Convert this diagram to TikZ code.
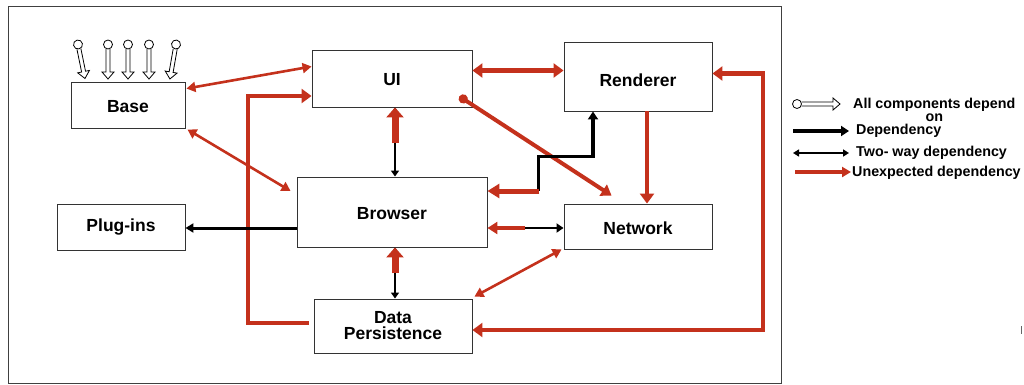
\documentclass[tikz,border=0pt]{standalone}
\usepackage{fontspec}
\setmainfont{Liberation Sans}
\usetikzlibrary{arrows.meta,calc}
\definecolor{dred}{HTML}{C4311C}
\begin{document}
\begin{tikzpicture}[x=1pt,y=-1pt,
  box/.style={draw=black!80, line width=0.9pt, inner sep=0pt, font=\fontsize{17.5}{16}\selectfont\bfseries, align=center},
  one/.style={text height=12.5pt, text depth=0pt},
  leg/.style={anchor=west, inner sep=0pt, font=\fontsize{14.3}{12.5}\selectfont\bfseries, align=center},
  rthin/.style={draw=dred, line width=2.6pt, {Triangle[length=9pt,width=10pt]}-{Triangle[length=9pt,width=10pt]}},
  rthick/.style={draw=dred, line width=4.5pt, -{Triangle[length=10pt,width=14pt]}},
  rstub/.style={draw=dred, line width=7pt, -{Triangle[length=10pt,width=17pt]}},
  bthin/.style={draw=black, line width=2pt, {Triangle[length=6pt,width=8pt]}-{Triangle[length=6pt,width=8pt]}},
  bthick/.style={draw=black, line width=3.5pt, -{Triangle[length=8pt,width=10pt]}},
  pics/hollow/.style={code={
    \draw[line width=0.8pt, fill=white] (-2,4.5) -- (-2,#1-7) -- (-6,#1-7) -- (0,#1) -- (6,#1-7) -- (2,#1-7) -- (2,4.5);
    \draw[line width=0.8pt, fill=white] (0,0) circle[radius=4.5];
  }}
]
\useasboundingbox (0,0) rectangle (1024,385);
\draw[black!75, line width=1pt] (8,7) rectangle (781,383);

% boxes
\node[box, one, minimum width=114pt, minimum height=46pt] (Base) at (128,105) {\raisebox{-1pt}{Base}};
\node[box, one, minimum width=160pt, minimum height=57pt] (UI) at (392,78.5) {\raisebox{-1pt}{UI}};
\node[box, one, minimum width=148pt, minimum height=69pt] (Renderer) at (638,76.5) {\raisebox{-3.5pt}{Renderer}};
\node[box, one, minimum width=148pt, minimum height=45pt] (Network) at (638,226.5) {\raisebox{-1.5pt}{Network}};
\node[box, one, minimum width=190pt, minimum height=70pt] (Browser) at (392,212) {\raisebox{-1pt}{Browser}};
\node[box, minimum width=128pt, minimum height=46pt] (Plugins) at (121,227) {Plug-ins};
\node[box, minimum width=158pt, minimum height=54pt] (DP) at (393,326) {Data\\Persistence};

% pins above Base
\pic[rotate=11.6] at (78,44.5) {hollow={34.7}};
\pic at (108,44.5) {hollow={34.5}};
\pic at (128,44.5) {hollow={34.5}};
\pic at (149,44.5) {hollow={34.5}};
\pic[rotate=-10] at (176,44.5) {hollow={35}};

% thin red two-way
\draw[rthin] ($(Base.north east)+(1,7)$) -- ($(UI.west)+(0,-12)$);
\draw[rthin] ($(Base.south east)+(2,1)$) -- ($(Browser.west)+(-6,-21)$);
\draw[rthin] ($(DP.north east)+(2,-2)$) -- ($(Network.south west)+(-2,0)$);

% DP -> UI loop
\draw[rthick, line join=miter] ($(DP.west)+(-5,-3)$) -| (248,96) -- ($(UI.west)+(0,17.5)$);
% UI <-> Renderer
\draw[rthick, {Triangle[length=10pt,width=14pt]}-{Triangle[length=10pt,width=14pt]}] ($(UI.east)+(0,-8)$) -- ($(Renderer.west)+(0,-6)$);
% UI -> Network with dot
\draw[draw=dred, line width=4pt, {Circle[length=9pt]}-{Triangle[length=10pt,width=13pt]}] ($(UI.south east)+(-13,-11)$) -- ($(Network.north west)+(48,-8)$);
% Renderer -> Network
\draw[rthick] ($(Renderer.south)+(9,0)$) -- ($(Network.north)+(9,0)$);
% right loop Renderer <-> DP
\draw[rthick, line join=miter, {Triangle[length=10pt,width=14pt]}-{Triangle[length=10pt,width=14pt]}] ($(Renderer.east)+(0,-3)$) -| (763,330) -- ($(DP.east)+(0,4)$);

% UI <-> Browser
\draw[bthin] ($(UI.south)+(3,0)$) -- ($(Browser.north)+(3,0)$);
\draw[rstub] ($(UI.south)+(3,36)$) -- ($(UI.south)+(3,0)$);
% Browser <-> DP
\draw[bthin] ($(Browser.south)+(3,0)$) -- ($(DP.north)+(2,0)$);
\draw[rstub] ($(Browser.south)+(3,26)$) -- ($(Browser.south)+(3,0)$);

% Browser -> Renderer (black) and Renderer -> Browser (red)
\coordinate (rb) at ($(Browser.east)+(51,-21)$);
\draw[bthick, line join=miter] (rb) |- ($(Renderer.south)+(-45,45)$) -- ($(Renderer.south)+(-45,0)$);
\draw[draw=dred, line width=5pt, -{Triangle[length=12pt,width=14pt]}] ($(rb)+(1,0)$) -- (Browser.east |- rb);

% Browser <-> Network
\coordinate (bn) at ($(Browser.east)+(38,16)$);
\draw[draw=black, line width=2.2pt, -{Triangle[length=7pt,width=9pt]}] (bn) -- (Network.west |- bn);
\draw[draw=dred, line width=4.5pt, -{Triangle[length=10pt,width=12pt]}] (bn) -- (Browser.east |- bn);

% Browser -> Plug-ins
\draw[draw=black, line width=3pt, -{Triangle[length=8pt,width=9pt]}] ($(Browser.west)+(0,16)$) -- ($(Plugins.east)+(0,1)$);

% legend
\pic[rotate=90] at (797,104) {hollow={43}};
\node[leg] (l1) at (853,110) {All components depend\\on};
\coordinate (a2s) at (793,131);
\coordinate (a2e) at (849,131);
\draw[draw=black, line width=4pt, -{Triangle[length=8pt,width=10pt]}] (a2s) -- (a2e);
\node[leg] (l2) at (856,131) {Dependency};
\coordinate (a3s) at (793,153);
\coordinate (a3e) at (849,153);
\draw[draw=black, line width=1.5pt, {Triangle[length=6pt,width=7pt]}-{Triangle[length=6pt,width=7pt]}] (a3s) -- (a3e);
\node[leg] (l3) at (856,153) {Two- way dependency};
\coordinate (a4s) at (795,172);
\coordinate (a4e) at (851,172);
\draw[draw=dred, line width=4pt, -{Triangle[length=9pt,width=10pt]}] (a4s) -- (a4e);
\node[leg] (l4) at (852,173) {Unexpected dependency};

% small mark at right edge
\draw[black!60, line width=0.8pt] (1021,326) -- (1021,334);
\end{tikzpicture}
\end{document}
